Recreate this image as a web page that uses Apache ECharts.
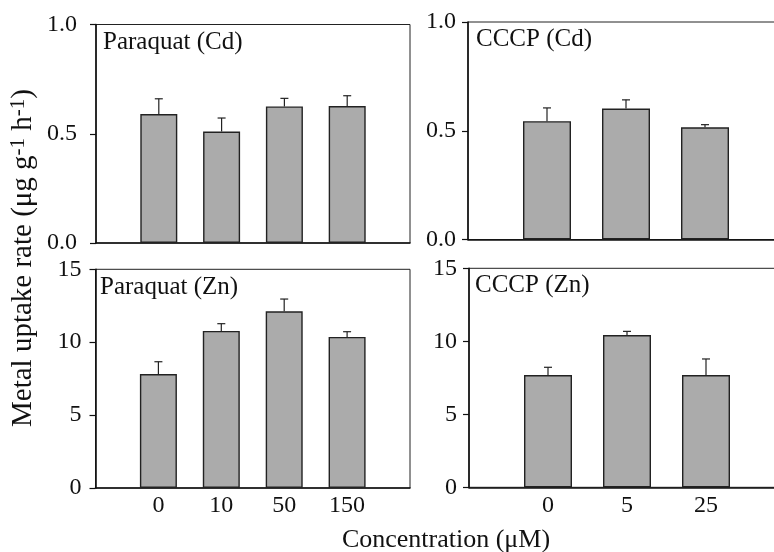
<!DOCTYPE html>
<html>
<head>
<meta charset="utf-8">
<script src="https://cdn.jsdelivr.net/npm/echarts@6/dist/echarts.min.js"></script>
<style>
  html, body { margin: 0; padding: 0; background: #fff; }
  #chart { width: 774px; height: 552px; }
</style>
</head>
<body>
<div id="chart"></div>
<script>
// concentrations (uM)
var paraquatConc = ['0', '10', '50', '150'];
var cccpConc = ['0', '5', '25'];

// uptake rates and upper error (ug g-1 h-1)
var paraquatCd = [0.59, 0.51, 0.625, 0.627];
var paraquatCdErr = [0.07, 0.062, 0.037, 0.047];
var cccpCd = [0.544, 0.602, 0.516];
var cccpCdErr = [0.061, 0.04, 0.012];
var paraquatZn = [7.82, 10.77, 12.12, 10.36];
var paraquatZnErr = [0.84, 0.5, 0.84, 0.36];
var cccpZn = [7.69, 10.43, 7.69];
var cccpZnErr = [0.53, 0.25, 1.1];

var cdTicks = [0, 0.5, 1.0];
var znTicks = [0, 5, 10, 15];

var serif = '"Liberation Serif", "DejaVu Serif", serif';

// pad categories with an empty slot at each end
function padCats(cats) {
  return [''].concat(cats).concat(['']);
}
function padVals(vals) {
  return ['-'].concat(vals).concat(['-']);
}
function errData(vals, errs) {
  var out = [];
  for (var i = 0; i < vals.length; i++) {
    out.push([i + 1, vals[i], errs[i]]);
  }
  return out;
}

function renderErr(params, api) {
  var x = api.value(0);
  var v = api.value(1);
  var e = api.value(2);
  var base = api.coord([x, v]);
  var top = api.coord([x, v + e]);
  var cap = 4;
  return {
    type: 'group',
    children: [
      { type: 'line', shape: { x1: base[0], y1: base[1], x2: top[0], y2: top[1] },
        style: { stroke: '#222', lineWidth: 1.2 } },
      { type: 'line', shape: { x1: top[0] - cap, y1: top[1], x2: top[0] + cap, y2: top[1] },
        style: { stroke: '#222', lineWidth: 1.2 } }
    ]
  };
}

function makeX(idx, cats, showLabels) {
  return {
    gridIndex: idx,
    type: 'category',
    data: padCats(cats),
    boundaryGap: false,
    axisLine: { show: true, lineStyle: { color: '#111', width: 1.6 } },
    axisTick: { show: false },
    splitLine: { show: false },
    axisLabel: {
      show: showLabels,
      interval: 0,
      margin: 6,
      color: '#111',
      fontSize: 24,
      fontFamily: serif
    }
  };
}

function makeY(idx, max, interval, margin, fmt) {
  return {
    gridIndex: idx,
    type: 'value',
    min: 0,
    max: max,
    interval: interval,
    axisLine: { show: true, lineStyle: { color: '#111', width: 1.6 } },
    axisTick: { show: true, length: 6, lineStyle: { color: '#111', width: 1.2 } },
    splitLine: { show: false },
    axisLabel: {
      margin: margin,
      color: '#111',
      fontSize: 24,
      fontFamily: serif,
      formatter: fmt
    }
  };
}

function barSeries(idx, vals, width) {
  return {
    type: 'bar',
    xAxisIndex: idx,
    yAxisIndex: idx,
    data: padVals(vals),
    barWidth: width,
    itemStyle: { color: '#ababab', borderColor: '#222', borderWidth: 1.4 },
    silent: true,
    z: 2
  };
}

function errSeries(idx, vals, errs) {
  return {
    type: 'custom',
    xAxisIndex: idx,
    yAxisIndex: idx,
    data: errData(vals, errs),
    renderItem: renderErr,
    silent: true,
    z: 3
  };
}

function cdFmt(v) { return v.toFixed(1); }
function znFmt(v) { return String(v); }

var gridStyle = { show: true, borderColor: '#222', borderWidth: 1, containLabel: false, outerBoundsMode: 'none' };

var option = {
  backgroundColor: '#fff',
  animation: false,
  grid: [
    Object.assign({ left: 96, top: 24.5, width: 314, height: 218.5 }, gridStyle),
    Object.assign({ left: 468, top: 22, width: 316, height: 217.5 }, gridStyle),
    Object.assign({ left: 95.5, top: 269.3, width: 314.5, height: 218.7 }, gridStyle),
    Object.assign({ left: 469, top: 268.3, width: 316, height: 219 }, gridStyle)
  ],
  xAxis: [
    makeX(0, paraquatConc, false),
    makeX(1, cccpConc, false),
    makeX(2, paraquatConc, true),
    makeX(3, cccpConc, true)
  ],
  yAxis: [
    makeY(0, cdTicks[cdTicks.length - 1], cdTicks[1], 19, cdFmt),
    makeY(1, cdTicks[cdTicks.length - 1], cdTicks[1], 12, cdFmt),
    makeY(2, znTicks[znTicks.length - 1], znTicks[1], 14, znFmt),
    makeY(3, znTicks[znTicks.length - 1], znTicks[1], 12, znFmt)
  ],
  series: [
    barSeries(0, paraquatCd, 37),
    errSeries(0, paraquatCd, paraquatCdErr),
    barSeries(1, cccpCd, 48),
    errSeries(1, cccpCd, cccpCdErr),
    barSeries(2, paraquatZn, 37),
    errSeries(2, paraquatZn, paraquatZnErr),
    barSeries(3, cccpZn, 48),
    errSeries(3, cccpZn, cccpZnErr)
  ],
  graphic: [
    { type: 'text', style: { x: 103, y: 42, text: 'Paraquat (Cd)', fontSize: 25, fontFamily: serif, fill: '#111', verticalAlign: 'middle' } },
    { type: 'text', style: { x: 476, y: 39, text: 'CCCP (Cd)', fontSize: 25, fontFamily: serif, fill: '#111', verticalAlign: 'middle' } },
    { type: 'text', style: { x: 100, y: 287, text: 'Paraquat (Zn)', fontSize: 25, fontFamily: serif, fill: '#111', verticalAlign: 'middle' } },
    { type: 'text', style: { x: 475, y: 285, text: 'CCCP (Zn)', fontSize: 25, fontFamily: serif, fill: '#111', verticalAlign: 'middle' } },
    { type: 'text', style: { x: 446, y: 540, text: 'Concentration (\u03bcM)', fontSize: 26, fontFamily: serif, fill: '#111', align: 'center', verticalAlign: 'middle' } },
    {
      type: 'text',
      x: 23,
      y: 258,
      rotation: Math.PI / 2,
      style: {
        text: 'Metal uptake rate (\u03bcg g{sup|-1} h{sup|-1})',
        fontSize: 29,
        fontFamily: serif,
        fill: '#111',
        align: 'center',
        verticalAlign: 'middle',
        rich: {
          sup: { fontSize: 21, fontFamily: serif, fill: '#111', verticalAlign: 'top', padding: [0, 0, 10, 0] }
        }
      }
    }
  ]
};

var chart = echarts.init(document.getElementById('chart'));
chart.setOption(option);
</script>
</body>
</html>
